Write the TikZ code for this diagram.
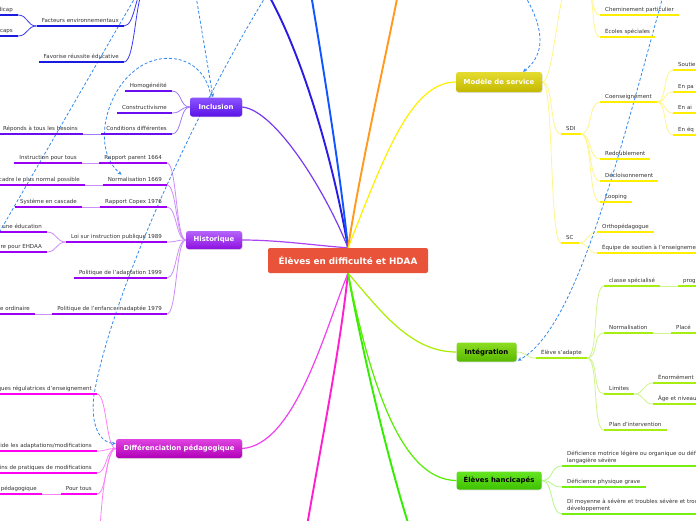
\documentclass[tikz,border=0pt]{standalone}
\usepackage{fontspec}
\setmainfont{DejaVu Sans}
\usetikzlibrary{arrows.meta,shadows}
\pgfdeclarelayer{bg}
\pgfsetlayers{bg,main}
\definecolor{txt}{HTML}{333333}
\definecolor{cCen}{HTML}{E8533A}
\definecolor{incT}{HTML}{8C55FF}\definecolor{incB}{HTML}{5A12E6}
\definecolor{hisT}{HTML}{B565FA}\definecolor{hisB}{HTML}{8E10E0}
\definecolor{difT}{HTML}{E044E0}\definecolor{difB}{HTML}{B000B8}
\definecolor{modT}{HTML}{E5DC30}\definecolor{modB}{HTML}{C4B800}
\definecolor{intT}{HTML}{8CDD22}\definecolor{intB}{HTML}{58B800}
\definecolor{hanT}{HTML}{66E622}\definecolor{hanB}{HTML}{3EC000}
\definecolor{cInc}{HTML}{6A0DF0}\definecolor{lInc}{HTML}{A07CF8}
\definecolor{cHis}{HTML}{9B00F5}\definecolor{lHis}{HTML}{CE8CFA}
\definecolor{cDif}{HTML}{FF00F0}\definecolor{lDif}{HTML}{FF80F8}
\definecolor{cMod}{HTML}{FFEE00}\definecolor{lMod}{HTML}{FFF68A}
\definecolor{cInt}{HTML}{A6EE10}\definecolor{lInt}{HTML}{D0F58C}
\definecolor{cHan}{HTML}{77EE11}\definecolor{lHan}{HTML}{B5F78A}
\definecolor{cBlu}{HTML}{1A1AE0}\definecolor{lBlu}{HTML}{3A3AF0}
\definecolor{bDark}{HTML}{2B1BE5}\definecolor{bBlue}{HTML}{1155FF}
\definecolor{bOrange}{HTML}{FF9A1F}\definecolor{bPink}{HTML}{FF1FCF}
\definecolor{bGreen}{HTML}{33EE00}
\definecolor{kInc}{HTML}{7A3AF0}\definecolor{kHis}{HTML}{AA44F0}
\definecolor{kDif}{HTML}{F040F0}\definecolor{kMod}{HTML}{FFF000}
\definecolor{kInt}{HTML}{AAEE00}\definecolor{kHan}{HTML}{55EE00}
\definecolor{dashc}{HTML}{3388EE}
\tikzset{
 lab/.style={font=\fontsize{5.5}{7}\selectfont, text=txt, inner xsep=5pt, inner ysep=2.2pt, text height=4.2pt, text depth=1.3pt},
 labm/.style={font=\fontsize{5.5}{7}\selectfont, text=txt, inner xsep=5pt, inner ysep=2.2pt, text width=#1, align=left},
 ul/.style={append after command={(\tikzlastnode.south west) edge[draw=#1, line width=2.2pt] (\tikzlastnode.south east)}},
 lclip/.style={text width=200pt, align=right},
 rclip/.style={text width=120pt, align=left},
 box/.style={rounded corners=2.5pt, font=\bfseries\fontsize{6.9}{8}\selectfont, inner sep=0pt, drop shadow={shadow xshift=0.6pt, shadow yshift=-0.9pt, opacity=0.25}},
 con/.style={draw=#1, line width=0.8pt},
 lk/.style={draw=#1, line width=1.2pt},
 br/.style={draw=#1, line width=1.9pt},
 dshn/.style={draw=dashc, line width=0.8pt, dash pattern=on 3pt off 2pt},
 dsh/.style={dshn, -{Stealth[length=4pt,width=3.5pt]}},
}
\begin{document}
\begin{tikzpicture}[x=1pt,y=-1pt]
\useasboundingbox (0,0) rectangle (696,520);
\clip (0,0) rectangle (696,520);

% off-screen coordinates
\coordinate (bluTop) at (147,-14);
\coordinate (modTop) at (570,-18);
\coordinate (cheTop) at (586,-10);
\coordinate (difBot) at (100,530);
\coordinate (dTop1) at (196,-4);
\coordinate (dTop2) at (266,-4);
\coordinate (dTop3) at (525,-4);
\coordinate (dTop4) at (663,-4);
\coordinate (dTopL) at (136,-4);
\coordinate (dBotL) at (-4,238);
\coordinate (eDark) at (268,-6);
\coordinate (eBlue) at (311,-6);
\coordinate (eOrange) at (398,-6);
\coordinate (ePink) at (307,526);
\coordinate (eGreen) at (409,526);

% main nodes
\node[fill=cCen, rounded corners=2pt, minimum width=160pt, minimum height=25pt, inner sep=0pt, text=white, font=\bfseries\fontsize{8.8}{10}\selectfont] (c) at (348,260.5) {Élèves en difficulté et HDAA};
\node[box, top color=incT, bottom color=incB, text=white, minimum width=52pt, minimum height=19pt] (inc) at (216,107) {Inclusion};
\node[box, top color=hisT, bottom color=hisB, text=white, minimum width=56pt, minimum height=18pt] (his) at (214,240) {Historique};
\node[box, top color=difT, bottom color=difB, text=white, minimum width=126pt, minimum height=19pt] (dif) at (179,448.5) {Différenciation pédagogique};
\node[box, top color=modT, bottom color=modB, text=white, minimum width=86pt, minimum height=20pt] (mod) at (499,82) {Modèle de service};
\node[box, top color=intT, bottom color=intB, text=black, minimum width=60pt, minimum height=19pt] (int) at (486.5,352) {Intégration};
\node[box, top color=hanT, bottom color=hanB, text=black, minimum width=85pt, minimum height=18pt] (han) at (499,480.5) {Élèves hancicapés};

% dark blue branch children
\node[lab, ul=cBlu, anchor=south east] (blu1) at (124,26) {Facteurs environnementaux};
\node[lab, lclip, ul=cBlu, anchor=south east] (blu1a) at (18,15) {dicap};
\node[lab, lclip, ul=cBlu, anchor=south east] (blu1b) at (18,36) {icaps};
\node[lab, ul=cBlu, anchor=south east] (blu2) at (124,62) {Favorise réussite éducative};

% Inclusion children
\node[lab, ul=cInc, anchor=south east] (inc1) at (172,91) {Homogénéité};
\node[lab, ul=cInc, anchor=south east] (inc2) at (172,113) {Constructivisme};
\node[lab, ul=cInc, anchor=south east] (inc3) at (172,134) {Conditions différentes};
\node[lab, ul=cInc, anchor=south east] (inc3a) at (83,134) {Réponds à tous les besoins};

% Historique children
\node[lab, ul=cHis, anchor=south east] (his1) at (167,163) {Rapport parent 1664};
\node[lab, ul=cHis, anchor=south east] (his1a) at (82,163) {Instruction pour tous};
\node[lab, ul=cHis, anchor=south east] (his2) at (167,185) {Normalisation 1669};
\node[lab, lclip, ul=cHis, anchor=south east] (his2a) at (85,185) {cadre le plus normal possible};
\node[lab, ul=cHis, anchor=south east] (his3) at (167,207) {Rapport Copex 1976};
\node[lab, ul=cHis, anchor=south east] (his3a) at (82,207) {Système en cascade};
\node[lab, ul=cHis, anchor=south east] (his4) at (167,242) {Loi sur instruction publique 1989};
\node[lab, lclip, ul=cHis, anchor=south east] (his4a) at (47,232) {r une éducation};
\node[lab, lclip, ul=cHis, anchor=south east] (his4b) at (47,252) {ire pour EHDAA};
\node[lab, ul=cHis, anchor=south east] (his5) at (167,278) {Politique de l'adaptation 1999};
\node[lab, ul=cHis, anchor=south east] (his6) at (167,314) {Politique de l'enfance inadaptée 1979};
\node[lab, lclip, ul=cHis, anchor=south east] (his6a) at (35,314) {e ordinaire};

% Differenciation children
\node[lab, lclip, ul=cDif, anchor=south east] (dif1) at (97,394) {ques régulatrices d'enseignement};
\node[lab, lclip, ul=cDif, anchor=south east] (dif2) at (97,451) {ide les adaptations/modifications};
\node[lab, lclip, ul=cDif, anchor=south east] (dif3) at (97,473) {ins de pratiques de modifications};
\node[lab, ul=cDif, anchor=south east] (dif4) at (97,494) {Pour tous};
\node[lab, lclip, ul=cDif, anchor=south east] (dif4a) at (42,494) {pédagogique};

% Modele de service children
\node[lab, ul=cMod, anchor=south west] (mod0a) at (600,15) {Cheminement particulier};
\node[lab, ul=cMod, anchor=south west] (mod0b) at (600,37) {Écoles spéciales};
\node[lab, ul=cMod, anchor=south west] (sdi) at (561,134) {SDI};
\node[lab, ul=cMod, anchor=south west] (co) at (600,102) {Coenseignement};
\node[lab, rclip, ul=cMod, anchor=south west] (co1) at (673,70) {Soutie};
\node[lab, rclip, ul=cMod, anchor=south west] (co2) at (673,92) {En pa};
\node[lab, rclip, ul=cMod, anchor=south west] (co3) at (673,113) {En ai};
\node[lab, rclip, ul=cMod, anchor=south west] (co4) at (673,135) {En éq};
\node[lab, ul=cMod, anchor=south west] (red) at (600,159) {Redoublement};
\node[lab, ul=cMod, anchor=south west] (dec) at (600,181) {Décloisonnement};
\node[lab, ul=cMod, anchor=south west] (loo) at (600,202) {Looping};
\node[lab, ul=cMod, anchor=south west] (sc) at (561,243) {SC};
\node[lab, ul=cMod, anchor=south west] (ort) at (597,232) {Orthopédagogue};
\node[lab, rclip, ul=cMod, anchor=south west] (equ) at (597,253) {Équipe de soutien à l'enseignement};

% Integration children
\node[lab, ul=cInt, anchor=south west] (ela) at (536,358) {Élève s'adapte};
\node[lab, ul=cInt, anchor=south west] (cls) at (604,286) {classe spécialisé};
\node[lab, rclip, ul=cInt, anchor=south west] (cls1) at (678,286) {progr};
\node[lab, ul=cInt, anchor=south west] (nor) at (604,333) {Normalisation};
\node[lab, rclip, ul=cInt, anchor=south west] (nor1) at (671,333) {Placé};
\node[lab, ul=cInt, anchor=south west] (lim) at (604,394) {Limites};
\node[lab, rclip, ul=cInt, anchor=south west] (lim1) at (653,383) {Énormément};
\node[lab, rclip, ul=cInt, anchor=south west] (lim2) at (653,404) {Âge et niveau};
\node[lab, ul=cInt, anchor=south west] (pla) at (604,430) {Plan d'intervention};

% Eleves handicapes children
\node[labm=200pt, ul=cHan, anchor=south west] (h1) at (562,466) {Déficience motrice légère ou organique ou déficience\\langagière sévère};
\node[lab, ul=cHan, anchor=south west] (h2) at (562,487) {Déficience physique grave};
\node[labm=200pt, ul=cHan, anchor=south west] (h3) at (562,514) {DI moyenne à sévère et troubles sévère et troubles du\\développement};

\begin{pgfonlayer}{bg}
\fill[white] (0,0) rectangle (696,520);
\clip (0,0) rectangle (696,520);
% main branches
\draw[br=bDark] (c.north) .. controls (335,170) and (305,60) .. (eDark);
\draw[br=bBlue] (c.north) .. controls (340,170) and (322,60) .. (eBlue);
\draw[br=bOrange] (c.north) .. controls (360,170) and (385,60) .. (eOrange);
\draw[br=bPink] (c.south) .. controls (340,350) and (320,450) .. (ePink);
\draw[br=bGreen] (c.south) .. controls (360,340) and (385,450) .. (eGreen);
\draw[lk=kInc] (inc.east) .. controls (275,110) and (325,190) .. (c.north);
\draw[lk=kHis] (his.east) .. controls (280,240) and (320,246) .. (c.north);
\draw[lk=kMod] (c.north) .. controls (383,160) and (410,82) .. (mod.west);
\draw[lk=kDif] (c.south) .. controls (325,330) and (295,445) .. (dif.east);
\draw[lk=kInt] (c.south) .. controls (380,310) and (410,352) .. (int.west);
\draw[lk=kHan] (c.south) .. controls (370,380) and (400,480) .. (han.west);

% dark blue children
\foreach \n in {blu1,blu2}
  \draw[con=lBlu] (\n.south east) .. controls +(12,0) and +(-12,0) .. (bluTop);
\foreach \n in {blu1a,blu1b}
  \draw[con=lBlu] (\n.south east) .. controls +(10,0) and +(-10,0) .. (blu1.south west);

% Inclusion
\foreach \n in {inc1,inc2,inc3}
  \draw[con=lInc] (\n.south east) .. controls +(10,0) and +(-10,0) .. (inc.west);
\draw[con=lInc] (inc3a.south east) -- (inc3.south west);

% Historique
\foreach \n in {his1,his2,his3,his4,his5,his6}
  \draw[con=lHis] (\n.south east) .. controls +(10,0) and +(-10,0) .. (his.west);
\draw[con=lHis] (his1a.south east) -- (his1.south west);
\draw[con=lHis] (his2a.south east) -- (his2.south west);
\draw[con=lHis] (his3a.south east) -- (his3.south west);
\draw[con=lHis] (his6a.south east) -- (his6.south west);
\foreach \n in {his4a,his4b}
  \draw[con=lHis] (\n.south east) .. controls +(10,0) and +(-10,0) .. (his4.south west);

% Differenciation
\foreach \n in {dif1,dif2,dif3,dif4}
  \draw[con=lDif] (\n.south east) .. controls +(10,0) and +(-10,0) .. (dif.west);
\draw[con=lDif] (dif.west) .. controls +(-8,0) and +(2,-40) .. (difBot);
\draw[con=lDif] (dif4a.south east) -- (dif4.south west);

% Modele de service
\foreach \n in {sdi,sc}
  \draw[con=lMod] (mod.east) .. controls +(12,0) and +(-12,0) .. (\n.south west);
\draw[con=lMod] (mod.east) .. controls +(12,0) and +(-12,0) .. (modTop);
\foreach \n in {mod0a,mod0b}
  \draw[con=lMod] (cheTop) .. controls +(10,0) and +(-10,0) .. (\n.south west);
\foreach \n in {co,red,dec,loo}
  \draw[con=lMod] (sdi.south east) .. controls +(12,0) and +(-12,0) .. (\n.south west);
\foreach \n in {co1,co2,co3,co4}
  \draw[con=lMod] (co.south east) .. controls +(10,0) and +(-10,0) .. (\n.south west);
\foreach \n in {ort,equ}
  \draw[con=lMod] (sc.south east) .. controls +(10,0) and +(-10,0) .. (\n.south west);

% Integration
\draw[con=lInt] (int.east) .. controls +(10,0) and +(-10,0) .. (ela.south west);
\foreach \n in {cls,nor,lim,pla}
  \draw[con=lInt] (ela.south east) .. controls +(12,0) and +(-12,0) .. (\n.south west);
\draw[con=lInt] (cls.south east) -- (cls1.south west);
\draw[con=lInt] (nor.south east) -- (nor1.south west);
\foreach \n in {lim1,lim2}
  \draw[con=lInt] (lim.south east) .. controls +(10,0) and +(-10,0) .. (\n.south west);

% Eleves handicapes
\foreach \n in {h1,h2,h3}
  \draw[con=lHan] (han.east) .. controls +(12,0) and +(-12,0) .. (\n.south west);

% dashed relations
\draw[dshn] (dTopL) -- (dBotL);
\draw[dsh] (dTop1) -- ([xshift=-3pt]inc.north);
\draw[dsh] ([xshift=-5pt]inc.north) .. controls (205,55) and (160,48) .. (133,72) .. controls (105,95) and (92,150) .. ([xshift=19pt]his2.north west);
\draw[dsh] (dTop2) .. controls (190,120) and (110,300) .. (94,395) .. controls (90,425) and (100,443) .. ([yshift=5pt]dif.west);
\draw[dsh] (dTop3) .. controls (545,30) and (545,55) .. ([xshift=24pt]mod.north);
\draw[dsh] (dTop4) .. controls (615,170) and (575,330) .. ([xshift=1pt,yshift=1pt]int.south east);
\end{pgfonlayer}
\end{tikzpicture}
\end{document}
